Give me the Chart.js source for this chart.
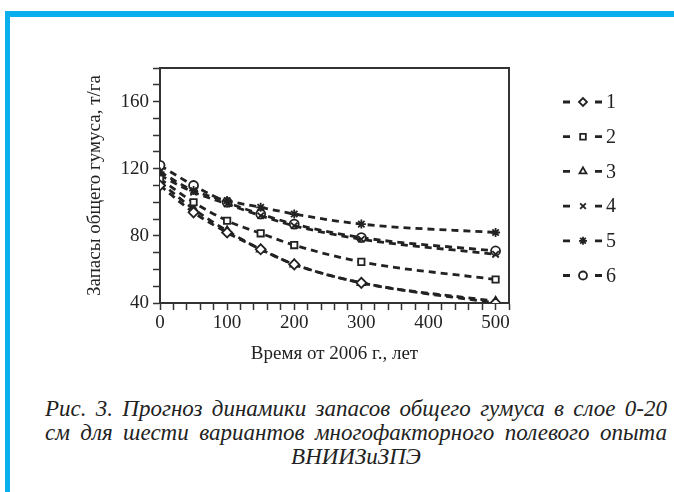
<!DOCTYPE html>
<html>
<head>
<meta charset="utf-8">
<script src="https://cdn.jsdelivr.net/npm/chart.js"></script>
<style>
  html, body { margin: 0; padding: 0; background: #fff; }
  body { width: 674px; height: 492px; position: relative; overflow: hidden; }
  .frame {
    position: absolute; left: 5px; top: 11px; right: 0; bottom: 0;
    border-top: 6px solid #0AAFEE; border-left: 5px solid #0AAFEE;
  }
  .chart-box { position: absolute; left: 0; top: 0; width: 674px; height: 380px; }
  .caption {
    position: absolute; left: 45px; width: 622px; top: 397px;
    font-family: "Liberation Serif", "DejaVu Serif", serif; font-style: italic;
    font-size: 23px; line-height: 24px; color: #222;
  }
  .caption div { text-align: justify; text-align-last: justify; white-space: nowrap; }
  .caption div.last { text-align: center; text-align-last: center; }
</style>
</head>
<body>
<div class="frame"></div>
<div class="chart-box"><canvas id="humusChart" width="674" height="380"></canvas></div>
<div class="caption">
  <div>Рис. 3. Прогноз динамики запасов общего гумуса в слое 0-20</div>
  <div>см для шести вариантов многофакторного полевого опыта</div>
  <div class="last">ВНИИЗиЗПЭ</div>
</div>
<script>
// years since 2006
const years = [0, 50, 100, 150, 200, 300, 500];

// humus stock, t/ha, per variant
const variant1 = [110, 94, 82, 72, 63, 52, 40];
const variant2 = [114, 100, 89, 81.5, 74.5, 64.5, 54];
const variant3 = [112, 96, 83, 72, 63, 52, 41];
const variant4 = [116, 106, 99, 92, 86, 78, 69];
const variant5 = [118, 107, 101, 97, 93, 87, 82];
const variant6 = [122, 110, 100, 93, 87, 79, 71];

const seriesLabels = ['1', '2', '3', '4', '5', '6'];
const seriesValues = [variant1, variant2, variant3, variant4, variant5, variant6];
const markers = ['rectRot', 'rect', 'triangle', 'crossRot', 'star', 'circle'];

const serif = '"Liberation Serif", "DejaVu Serif", serif';
const ink = '#222';

document.addEventListener('DOMContentLoaded', function() {
    const ctx = document.getElementById('humusChart').getContext('2d');

    const datasets = seriesValues.map((vals, i) => ({
        label: seriesLabels[i],
        data: vals.map((v, j) => ({ x: years[j], y: v })),
        borderColor: ink,
        borderWidth: 2.8,
        borderDash: [7, 5],
        cubicInterpolationMode: 'monotone',
        pointStyle: markers[i],
        pointRadius: markers[i] === 'rectRot' ? 5 : 4.5,
        pointBorderWidth: 1.8,
        pointBorderColor: ink,
        pointBackgroundColor: '#fff',
        fill: false
    }));

    // box around plot area + legend drawn as "- marker - N"
    const boxAndLegend = {
        id: 'boxAndLegend',
        afterDraw(chart) {
            const c = chart.ctx;
            const a = chart.chartArea;
            c.save();
            c.strokeStyle = '#333';
            c.lineWidth = 2;
            c.beginPath();
            c.moveTo(a.left, a.top);
            c.lineTo(a.right, a.top);
            c.lineTo(a.right, a.bottom);
            c.stroke();

            chart.data.datasets.forEach((ds, i) => {
                const y = 102 + i * 34.7;
                c.setLineDash([]);
                c.strokeStyle = ink;
                c.lineWidth = 2.8;
                c.beginPath();
                c.moveTo(563, y); c.lineTo(570, y);
                c.moveTo(595, y); c.lineTo(602, y);
                c.stroke();
                c.fillStyle = '#fff';
                c.lineWidth = 1.8;
                Chart.helpers.drawPoint(c, { pointStyle: ds.pointStyle, radius: 4, borderWidth: 1.8, rotation: 0 }, 583, y);
                c.fillStyle = ink;
                c.font = '20px ' + serif;
                c.textBaseline = 'middle';
                c.textAlign = 'left';
                c.fillText(ds.label, 606, y + 1);
            });
            c.restore();
        }
    };

    new Chart(ctx, {
        type: 'line',
        data: { datasets: datasets },
        options: {
            responsive: false,
            animation: false,
            layout: { padding: { left: 0, top: 68, right: 165, bottom: 0 } },
            plugins: {
                legend: { display: false },
                tooltip: { enabled: false }
            },
            scales: {
                x: {
                    type: 'linear',
                    min: 0,
                    max: 520,
                    afterFit: function(scale) { scale.height = 77; },
                    border: { color: '#333', width: 2 },
                    grid: { drawOnChartArea: false, tickLength: 7, color: '#333', tickWidth: 1.5 },
                    ticks: {
                        stepSize: 20,
                        autoSkip: false,
                        maxRotation: 0,
                        padding: 2,
                        color: ink,
                        font: { family: serif, size: 19 },
                        callback: function(v) { return v % 100 === 0 && v <= 500 ? String(v) : ''; }
                    },
                    title: {
                        display: true,
                        text: 'Время от 2006 г., лет',
                        color: ink,
                        font: { family: serif, size: 19 },
                        padding: { top: 0, bottom: 15 }
                    }
                },
                y: {
                    min: 40,
                    max: 180,
                    afterFit: function(scale) { scale.width = 160; },
                    border: { color: '#333', width: 2 },
                    grid: { drawOnChartArea: false, tickLength: 7, color: '#333', tickWidth: 1.5 },
                    ticks: {
                        stepSize: 10,
                        autoSkip: false,
                        padding: 4,
                        color: ink,
                        font: { family: serif, size: 19 },
                        callback: function(v) { return v % 40 === 0 ? String(v) : ''; }
                    },
                    title: {
                        display: true,
                        text: 'Запасы общего гумуса, т/га',
                        color: ink,
                        font: { family: serif, size: 19 },
                        padding: { top: 84, bottom: 0 }
                    }
                }
            }
        },
        plugins: [boxAndLegend]
    });
});
</script>
</body>
</html>
